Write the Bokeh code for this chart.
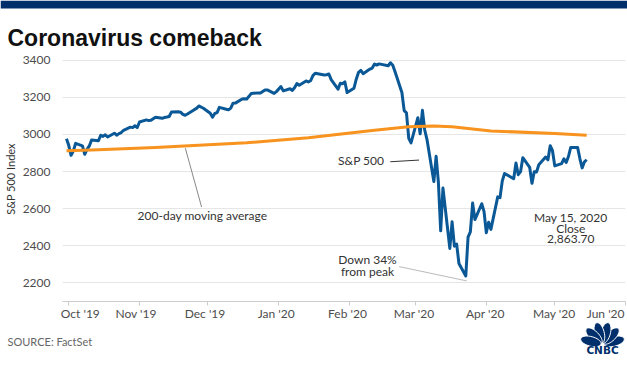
import calendar
import math
import datetime as dt
from bokeh.plotting import figure
from bokeh.layouts import column
from bokeh.models import ColumnDataSource, Label, FixedTicker, Range1d
from bokeh.core.properties import value
from bokeh.embed import file_html
from bokeh.resources import INLINE

# ---------------- data ----------------
sp_dates = [
    "2019-09-30",
    "2019-10-01", "2019-10-02", "2019-10-03", "2019-10-04", "2019-10-07", "2019-10-08", "2019-10-09",
    "2019-10-10", "2019-10-11", "2019-10-14", "2019-10-15", "2019-10-16", "2019-10-17", "2019-10-18",
    "2019-10-21", "2019-10-22", "2019-10-23", "2019-10-24", "2019-10-25", "2019-10-28", "2019-10-29",
    "2019-10-30", "2019-10-31",
    "2019-11-01", "2019-11-04", "2019-11-05", "2019-11-06", "2019-11-07", "2019-11-08", "2019-11-11",
    "2019-11-12", "2019-11-13", "2019-11-14", "2019-11-15", "2019-11-18", "2019-11-19", "2019-11-20",
    "2019-11-21", "2019-11-22", "2019-11-25", "2019-11-26", "2019-11-27", "2019-11-29",
    "2019-12-02", "2019-12-03", "2019-12-04", "2019-12-05", "2019-12-06", "2019-12-09", "2019-12-10",
    "2019-12-11", "2019-12-12", "2019-12-13", "2019-12-16", "2019-12-17", "2019-12-18", "2019-12-19",
    "2019-12-20", "2019-12-23", "2019-12-24", "2019-12-26", "2019-12-27", "2019-12-30", "2019-12-31",
    "2020-01-02", "2020-01-03", "2020-01-06", "2020-01-07", "2020-01-08", "2020-01-09", "2020-01-10",
    "2020-01-13", "2020-01-14", "2020-01-15", "2020-01-16", "2020-01-17", "2020-01-21", "2020-01-22",
    "2020-01-23", "2020-01-24", "2020-01-27", "2020-01-28", "2020-01-29", "2020-01-30", "2020-01-31",
    "2020-02-03", "2020-02-04", "2020-02-05", "2020-02-06", "2020-02-07", "2020-02-10", "2020-02-11",
    "2020-02-12", "2020-02-13", "2020-02-14", "2020-02-18", "2020-02-19", "2020-02-20", "2020-02-21",
    "2020-02-24", "2020-02-25", "2020-02-26", "2020-02-27", "2020-02-28",
    "2020-03-02", "2020-03-03", "2020-03-04", "2020-03-05", "2020-03-06", "2020-03-09", "2020-03-10",
    "2020-03-11", "2020-03-12", "2020-03-13", "2020-03-16", "2020-03-17", "2020-03-18", "2020-03-19",
    "2020-03-20", "2020-03-23", "2020-03-24", "2020-03-25", "2020-03-26", "2020-03-27", "2020-03-30",
    "2020-03-31",
    "2020-04-01", "2020-04-02", "2020-04-03", "2020-04-06", "2020-04-07", "2020-04-08", "2020-04-09",
    "2020-04-13", "2020-04-14", "2020-04-15", "2020-04-16", "2020-04-17", "2020-04-20", "2020-04-21",
    "2020-04-22", "2020-04-23", "2020-04-24", "2020-04-27", "2020-04-28", "2020-04-29", "2020-04-30",
    "2020-05-01", "2020-05-04", "2020-05-05", "2020-05-06", "2020-05-07", "2020-05-08", "2020-05-11",
    "2020-05-12", "2020-05-13", "2020-05-14", "2020-05-15",
]
sp_close = [
    2976.74,
    2940.25, 2887.61, 2910.63, 2952.01, 2938.79, 2893.06, 2919.40, 2938.13, 2970.27, 2966.15, 2995.68,
    2989.69, 2997.95, 2986.20, 3006.72, 2995.99, 3004.52, 3010.29, 3022.55, 3039.42, 3036.89, 3046.77,
    3037.56,
    3066.91, 3078.27, 3074.62, 3076.78, 3085.18, 3093.08, 3087.01, 3091.84, 3094.04, 3096.63, 3120.46,
    3122.03, 3120.18, 3108.46, 3103.54, 3110.29, 3133.64, 3140.52, 3153.63, 3140.98,
    3113.87, 3093.20, 3112.76, 3117.43, 3145.91, 3135.96, 3132.52, 3141.63, 3168.57, 3168.80, 3191.45,
    3192.52, 3191.14, 3205.37, 3221.22, 3224.01, 3223.38, 3239.91, 3240.02, 3221.29, 3230.78,
    3257.85, 3234.85, 3246.28, 3237.18, 3253.05, 3274.70, 3265.35, 3288.13, 3283.15, 3289.29, 3316.81,
    3329.62, 3320.79, 3321.75, 3325.54, 3295.47, 3243.63, 3276.24, 3273.40, 3283.66, 3225.52,
    3248.92, 3297.59, 3334.69, 3345.78, 3327.71, 3352.09, 3357.75, 3379.45, 3373.94, 3380.16, 3370.29,
    3386.15, 3373.23, 3337.75, 3225.89, 3128.21, 3116.39, 2978.76, 2954.22,
    3090.23, 3003.37, 3130.12, 3023.94, 2972.37, 2746.56, 2882.23, 2741.38, 2480.64, 2711.02, 2386.13,
    2529.19, 2398.10, 2409.39, 2304.92, 2237.40, 2447.33, 2475.56, 2630.07, 2541.47, 2626.65, 2584.59,
    2470.50, 2526.90, 2488.65, 2663.68, 2659.41, 2749.98, 2789.82, 2761.63, 2846.06, 2783.36, 2799.55,
    2874.56, 2823.16, 2736.56, 2799.31, 2797.80, 2836.74, 2878.48, 2863.39, 2939.51, 2912.43,
    2830.71, 2842.74, 2868.44, 2848.42, 2881.19, 2929.80, 2930.32, 2870.12, 2820.00, 2852.50, 2863.70,
]

ma_dates = ["2019-09-30", "2019-10-11", "2019-11-08", "2019-12-18", "2020-01-14", "2020-02-12",
            "2020-02-27", "2020-03-09", "2020-03-17", "2020-04-03", "2020-05-01", "2020-05-15"]
ma_values = [2912, 2916, 2930, 2955, 2982, 3023, 3041, 3045, 3041, 3019, 3005, 2996]

month_ticks = ["2019-10-01", "2019-11-01", "2019-12-01", "2020-01-01", "2020-02-01",
               "2020-03-01", "2020-04-01", "2020-05-01", "2020-06-01"]
month_labels = ["Oct '19", "Nov '19", "Dec '19", "Jan '20", "Feb '20",
                "Mar '20", "Apr '20", "May '20", "Jun '20"]
y_ticks = [2200, 2400, 2600, 2800, 3000, 3200, 3400]


def ms(s, hours=0.0):
    d = dt.datetime.strptime(s, "%Y-%m-%d")
    return calendar.timegm(d.timetuple()) * 1000.0 + hours * 3600000.0


# ---------------- styles ----------------
BLUE = "#0b5896"
ORANGE = "#f7931e"
NAVY = "#002f6c"
FONT = "Lato"
TXT = "#333333"
W = 627
BL, BR = 58, 2          # shared left/right borders of the chart and tick-label strip


def no_align(f):
    if "frame_align" in f.properties():
        f.frame_align = False
    return f


def blank(height, x_range=None, y_range=None, **kw):
    f = figure(width=W, height=height, output_backend="svg", toolbar_location=None,
               x_axis_location=None, y_axis_location=None,
               x_range=x_range if x_range is not None else Range1d(0, W),
               y_range=y_range if y_range is not None else Range1d(height, 0), **kw)
    f.outline_line_color = None
    f.background_fill_color = "white"
    f.border_fill_color = "white"
    f.grid.visible = False
    return no_align(f)


# ---------------- header ----------------
head = blank(52, min_border=0)
head.quad(left=[0], right=[W], top=[0], bottom=[8], fill_color=NAVY, line_color=None)
head.text(x=[7], y=[37], text=["Coronavirus comeback"], text_align="left",
          text_baseline="alphabetic", text_font=value("Liberation Sans"),
          text_font_style="bold", text_font_size="23px", text_color="#111111")

# ---------------- main chart ----------------
p = figure(width=W, height=255, x_axis_type="datetime",
           x_range=Range1d(ms("2019-09-28", 6), ms("2020-06-01")),
           y_range=Range1d(2100, 3420),
           output_backend="svg", toolbar_location=None,
           min_border_left=BL, min_border_right=BR, min_border_top=4, min_border_bottom=6)
no_align(p)
p.outline_line_color = None
p.background_fill_color = "white"
p.border_fill_color = "white"

src = ColumnDataSource(dict(date=[ms(d) for d in sp_dates], close=sp_close))
ma_src = ColumnDataSource(dict(date=[ms(d) for d in ma_dates], ma=ma_values))
p.line(x="date", y="close", source=src, line_color=BLUE, line_width=3, line_join="round")
p.line(x="date", y="ma", source=ma_src, line_color=ORANGE, line_width=3, line_join="round")

p.yaxis.ticker = FixedTicker(ticks=y_ticks)
p.ygrid.ticker = FixedTicker(ticks=y_ticks)
p.ygrid.grid_line_color = "#e6e6e6"
p.xgrid.grid_line_color = None
p.yaxis.axis_line_color = None
p.yaxis.major_tick_line_color = None
p.yaxis.minor_tick_line_color = None
p.yaxis.major_label_text_font = FONT
p.yaxis.major_label_text_font_size = "12px"
p.yaxis.major_label_text_color = "#4d4d4d"
p.yaxis.major_label_standoff = 6
p.yaxis.axis_label = "S&P 500 Index"
p.yaxis.axis_label_text_font = FONT
p.yaxis.axis_label_text_font_size = "11px"
p.yaxis.axis_label_text_font_style = "normal"
p.yaxis.axis_label_text_color = TXT
p.yaxis.axis_label_standoff = 3

xt = [ms(m) for m in month_ticks]
p.xaxis.ticker = FixedTicker(ticks=xt)
p.xaxis.axis_line_color = "#cccccc"
p.xaxis.major_tick_line_color = "#cccccc"
p.xaxis.minor_tick_line_color = None
p.xaxis.major_tick_out = 4
p.xaxis.major_tick_in = 0
p.xaxis.major_label_standoff = 0
p.xaxis.major_label_overrides = {t: "" for t in xt}   # labels drawn in the strip below

# annotations
p.segment(x0=[ms("2019-11-21", 2)], y0=[2926], x1=[ms("2019-11-28", 5)], y1=[2609],
          line_color="#888888", line_width=1)
p.add_layout(Label(x=ms("2019-11-28", 14), y=2561, text="200-day moving average",
                   text_align="center", text_baseline="middle",
                   text_font=FONT, text_font_size="12px", text_color=TXT))
p.segment(x0=[ms("2020-02-18", 22)], y0=[2853], x1=[ms("2020-03-02", 12)], y1=[2862],
          line_color="#333333", line_width=1)
p.add_layout(Label(x=ms("2020-02-16", 7), y=2858, text="S&P 500",
                   text_align="right", text_baseline="middle",
                   text_font=FONT, text_font_size="12px", text_color=TXT))
p.segment(x0=[ms("2020-02-22", 19)], y0=[2288], x1=[ms("2020-03-23", 10)], y1=[2211],
          line_color="#bbbbbb", line_width=1)
for txt, yy in [("Down 34%", 2324), ("from peak", 2261)]:
    p.add_layout(Label(x=ms("2020-02-08", 22), y=yy, text=txt,
                       text_align="center", text_baseline="middle",
                       text_font=FONT, text_font_size="12px", text_color=TXT))
for txt, yy in [("May 15, 2020", 2554), ("Close", 2495), ("2,863.70", 2435)]:
    p.add_layout(Label(x=ms("2020-05-08"), y=yy, text=txt,
                       text_align="center", text_baseline="middle",
                       text_font=FONT, text_font_size="12px", text_color=TXT))

# ---------------- x tick-label strip (shares the chart's x scale) ----------------
strip = blank(14, x_range=p.x_range, y_range=Range1d(14, 0),
              min_border_left=BL, min_border_right=BR, min_border_top=0, min_border_bottom=0)
lab_style = dict(text_baseline="middle", text_font=value(FONT), text_font_size="12px",
                 text_color="#4d4d4d")
strip.text(x=xt[:1], y=[6], text=month_labels[:1], text_align="left", x_offset=-4, **lab_style)
strip.text(x=xt[1:-1], y=[6] * (len(xt) - 2), text=month_labels[1:-1], text_align="center",
           **lab_style)
strip.text(x=xt[-1:], y=[6], text=month_labels[-1:], text_align="right", x_offset=-1,
           **lab_style)

# ---------------- footer: source + CNBC logo ----------------
foot = blank(47, min_border=0)
foot.text(x=[7], y=[20], text=["SOURCE: FactSet"], text_align="left", text_baseline="middle",
          text_font=value(FONT), text_font_size="11px", text_color="#666666")
cx, cy = 602, 23
feathers_x, feathers_y = [], []
for ang in [15, 45, 75, 105, 135, 165]:
    th = math.radians(ang)
    ux, uy = math.cos(th), math.sin(th)
    vx, vy = -uy, ux
    d, a, b = 12.0, 10.5, 4.8
    xs, ys = [], []
    for k in range(36):
        t = 2 * math.pi * k / 36
        xs.append(cx + d * ux + a * math.cos(t) * ux + b * math.sin(t) * vx)
        ys.append(cy - (d * uy + a * math.cos(t) * uy + b * math.sin(t) * vy))
    feathers_x.append(xs)
    feathers_y.append(ys)
foot.patches(xs=feathers_x, ys=feathers_y, fill_color=NAVY, line_color="white", line_width=1)
foot.text(x=[cx], y=[28], text=["CNBC"], text_align="center", text_baseline="middle",
          text_font=value("DejaVu Sans"), text_font_style="bold", text_font_size="10.5px",
          text_color=NAVY)

layout = column(head, p, strip, foot, spacing=0)
open("out.html", "w").write(file_html(layout, INLINE))
